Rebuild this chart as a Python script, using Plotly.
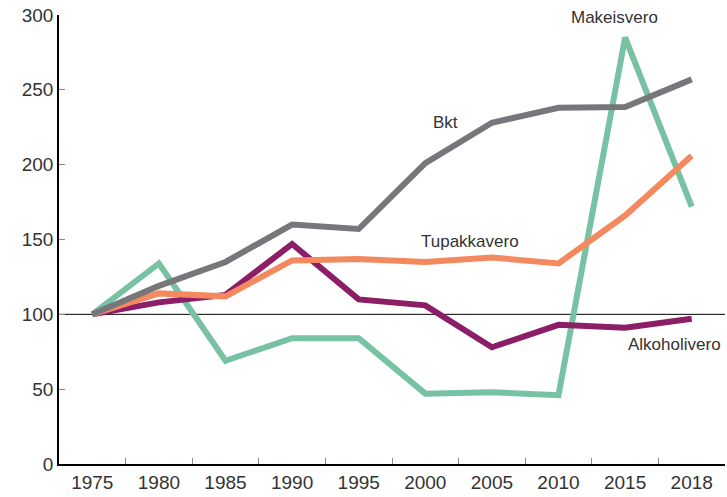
import plotly.graph_objects as go

years = ["1975", "1980", "1985", "1990", "1995", "2000", "2005", "2010", "2015", "2018"]
bkt = [100, 119, 135, 160, 157, 201, 228, 238, 238.5, 257]
tupakkavero = [100, 114, 112, 136, 137, 135, 138, 134, 166, 206]
alkoholivero = [100, 108, 113, 147, 110, 106, 78, 93, 91, 97]
makeisvero = [100, 134, 69, 84, 84, 47, 48, 46, 285, 172]

series = [
    ("Makeisvero", makeisvero, "#78c2a4"),
    ("Alkoholivero", alkoholivero, "#8b1e66"),
    ("Tupakkavero", tupakkavero, "#f4895f"),
    ("Bkt", bkt, "#77777b"),
]

labels = [
    ("Makeisvero", 7.84, 298),
    ("Bkt", 5.31, 228),
    ("Tupakkavero", 5.67, 149),
    ("Alkoholivero", 8.74, 80),
]

fig = go.Figure()
for name, vals, color in series:
    fig.add_trace(go.Scatter(x=years, y=vals, mode="lines", name=name,
                             line=dict(color=color, width=6)))

fig.add_shape(type="line", xref="paper", yref="y", x0=0, x1=1, y0=100, y1=100,
              line=dict(color="black", width=1), layer="below")

for text, x, y in labels:
    fig.add_annotation(x=x, y=y, xref="x", yref="y", text=text, showarrow=False,
                       font=dict(size=17, color="#333333"))

fig.update_layout(
    width=727, height=497,
    margin=dict(l=59, r=2, t=15, b=33),
    plot_bgcolor="white", paper_bgcolor="white",
    showlegend=False,
    font=dict(family="Liberation Sans, Arial, sans-serif", size=19, color="#333333"),
)
fig.update_xaxes(type="category", range=[-0.5, 9.5], showline=True, linecolor="black",
                 linewidth=1.5, ticks="inside", tickson="boundaries", ticklen=6,
                 tickcolor="#888888", showgrid=False, zeroline=False, automargin=False)
fig.update_yaxes(range=[0, 300], dtick=50, showline=True, linecolor="black", linewidth=1.5,
                 ticks="inside", ticklen=6, tickcolor="#888888", showgrid=False,
                 zeroline=False, automargin=False)

fig.write_html("out.html", config={"displayModeBar": False},
               post_script="document.body.style.margin='0';")
